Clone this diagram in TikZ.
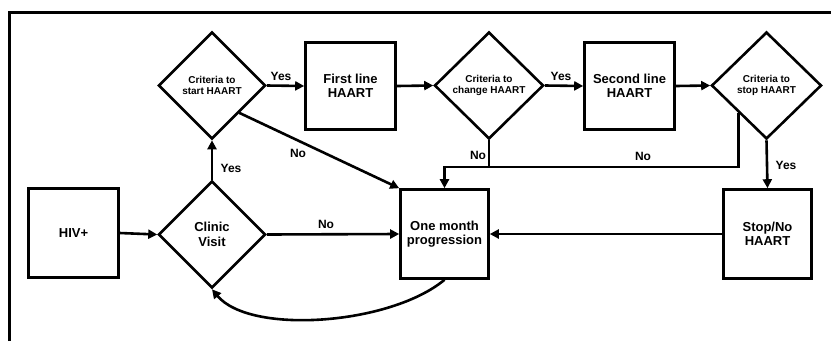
\documentclass[tikz,border=0pt]{standalone}
\usepackage{fontspec}
\setmainfont{Liberation Sans}
\usetikzlibrary{shapes.geometric,arrows.meta}
\begin{document}
\begin{tikzpicture}[x=1pt,y=-1pt,
  boxnode/.style={draw, line width=2.6pt, rectangle, inner sep=0pt, align=center, font=\fontsize{13}{14.5}\selectfont\bfseries},
  dia/.style={draw, line width=2.6pt, diamond, inner sep=0pt, align=center, minimum width=107pt, minimum height=107pt, font=\fontsize{10}{11}\selectfont\bfseries},
  conn/.style={line width=2.6pt},
  arr/.style={conn, -{Triangle[length=9pt,width=9pt]}},
  lbl/.style={font=\fontsize{12}{14}\selectfont\bfseries, inner sep=0pt}
]
\useasboundingbox (0,0) rectangle (831,341);
\draw[line width=3pt, line join=miter] (9.5,341) -- (9.5,12.5) -- (831,12.5);

\node[boxnode, minimum width=90pt, minimum height=89pt] (hiv) at (73.5,233) {HIV+};
\node[dia, font=\fontsize{13}{14.5}\selectfont\bfseries] (clinic) at (212,234.5) {Clinic\\Visit};
\node[dia] (start) at (212,85.5) {Criteria to\\start HAART};
\node[boxnode, minimum width=90pt, minimum height=87pt] (first) at (350.5,86) {First line\\HAART};
\node[boxnode, minimum width=88pt, minimum height=89pt] (month) at (444.5,234) {One month\\progression};
\node[dia, minimum width=109pt] (change) at (489,85.5) {Criteria to\\change HAART};
\node[boxnode, minimum width=90pt, minimum height=87pt] (second) at (629.5,86) {Second line\\HAART};
\node[dia, minimum width=110pt] (stopc) at (766.5,85.5) {Criteria to\\stop HAART};
\node[boxnode, minimum width=88pt, minimum height=89pt] (stopbox) at (767.5,234) {Stop/No\\HAART};

\coordinate (bus) at (0,167);

\draw[arr] (hiv.east) -- (clinic.west);
\draw[arr] (clinic.north) -- (start.south);
\draw[arr] (start.east) -- (first.west);
\draw[arr] (start.south east) -- (month.north west);
\draw[arr] (clinic.east) -- (month.west);
\draw[arr] (month.south) .. controls (390,325) and (250,335) .. (clinic.south);
\draw[arr] (first.east) -- (change.west);
\draw[arr] (change.east) -- (second.west);
\draw[arr] (second.east) -- (stopc.west);
\draw[arr] (stopc.south) -- (stopbox.north);
\draw[arr] (stopbox.west) -- (month.east);
\draw[conn] (change.south) -- (change.south |- bus);
\draw[arr, line join=miter] (stopc.south west) -- (stopc.south west |- bus) -- (month.north |- bus) -- (month.north);

\node[lbl] (l1) at (231,168) {Yes};
\node[lbl] (l2) at (281,76) {Yes};
\node[lbl] (l3) at (298,153) {No};
\node[lbl] (l4) at (326,224) {No};
\node[lbl] (l5) at (478,155) {No};
\node[lbl] (l6) at (643,156) {No};
\node[lbl] (l7) at (561,76) {Yes};
\node[lbl] (l8) at (786,165) {Yes};
\end{tikzpicture}
\end{document}
